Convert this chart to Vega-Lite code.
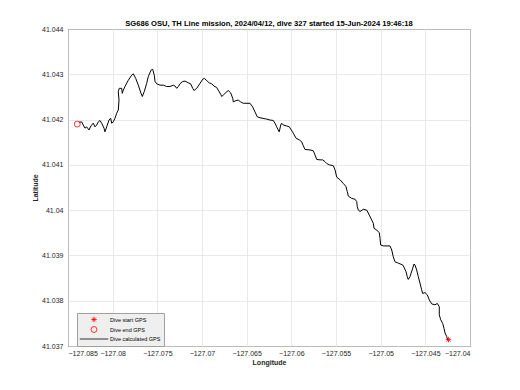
{
  "$schema": "https://vega.github.io/schema/vega-lite/v6.json",
  "autosize": {"type": "none"},
  "padding": {"left": 68, "top": 29, "right": 50, "bottom": 44},
  "width": 402,
  "height": 317,
  "background": "white",
  "title": {
    "text": "SG686 OSU, TH Line mission, 2024/04/12, dive 327 started 15-Jun-2024 19:46:18",
    "anchor": "middle",
    "font": "Liberation Sans",
    "fontSize": 7.6,
    "fontWeight": "bold",
    "color": "#000000",
    "offset": -3,
    "limit": 1000
  },
  "datasets": {
    "track": [
      {"i": 1, "lon": -127.08377, "lat": 41.04194},
      {"i": 2, "lon": -127.08347, "lat": 41.04195},
      {"i": 3, "lon": -127.08329, "lat": 41.04188},
      {"i": 4, "lon": -127.08310, "lat": 41.04181},
      {"i": 5, "lon": -127.08291, "lat": 41.04184},
      {"i": 6, "lon": -127.08265, "lat": 41.04177},
      {"i": 7, "lon": -127.08243, "lat": 41.04186},
      {"i": 8, "lon": -127.08217, "lat": 41.04192},
      {"i": 9, "lon": -127.08198, "lat": 41.04184},
      {"i": 10, "lon": -127.08179, "lat": 41.04188},
      {"i": 11, "lon": -127.08161, "lat": 41.04195},
      {"i": 12, "lon": -127.08142, "lat": 41.04198},
      {"i": 13, "lon": -127.08123, "lat": 41.04192},
      {"i": 14, "lon": -127.08097, "lat": 41.04181},
      {"i": 15, "lon": -127.08086, "lat": 41.04173},
      {"i": 16, "lon": -127.08067, "lat": 41.04184},
      {"i": 17, "lon": -127.08041, "lat": 41.04199},
      {"i": 18, "lon": -127.08022, "lat": 41.04203},
      {"i": 19, "lon": -127.08011, "lat": 41.04192},
      {"i": 20, "lon": -127.07993, "lat": 41.04195},
      {"i": 21, "lon": -127.07974, "lat": 41.04203},
      {"i": 22, "lon": -127.07955, "lat": 41.04214},
      {"i": 23, "lon": -127.07937, "lat": 41.04221},
      {"i": 24, "lon": -127.07929, "lat": 41.04243},
      {"i": 25, "lon": -127.07937, "lat": 41.04262},
      {"i": 26, "lon": -127.07926, "lat": 41.04269},
      {"i": 27, "lon": -127.07899, "lat": 41.04269},
      {"i": 28, "lon": -127.07892, "lat": 41.04258},
      {"i": 29, "lon": -127.07881, "lat": 41.04265},
      {"i": 30, "lon": -127.07862, "lat": 41.04273},
      {"i": 31, "lon": -127.07825, "lat": 41.04287},
      {"i": 32, "lon": -127.07787, "lat": 41.04298},
      {"i": 33, "lon": -127.07769, "lat": 41.04301},
      {"i": 34, "lon": -127.07742, "lat": 41.04291},
      {"i": 35, "lon": -127.07713, "lat": 41.04276},
      {"i": 36, "lon": -127.07683, "lat": 41.04258},
      {"i": 37, "lon": -127.07668, "lat": 41.04251},
      {"i": 38, "lon": -127.07646, "lat": 41.04262},
      {"i": 39, "lon": -127.07619, "lat": 41.04280},
      {"i": 40, "lon": -127.07601, "lat": 41.04295},
      {"i": 41, "lon": -127.07571, "lat": 41.04309},
      {"i": 42, "lon": -127.07552, "lat": 41.04311},
      {"i": 43, "lon": -127.07534, "lat": 41.04298},
      {"i": 44, "lon": -127.07526, "lat": 41.04284},
      {"i": 45, "lon": -127.07507, "lat": 41.04279},
      {"i": 46, "lon": -127.07470, "lat": 41.04276},
      {"i": 47, "lon": -127.07433, "lat": 41.04276},
      {"i": 48, "lon": -127.07395, "lat": 41.04273},
      {"i": 49, "lon": -127.07358, "lat": 41.04273},
      {"i": 50, "lon": -127.07321, "lat": 41.04276},
      {"i": 51, "lon": -127.07302, "lat": 41.04274},
      {"i": 52, "lon": -127.07283, "lat": 41.04269},
      {"i": 53, "lon": -127.07265, "lat": 41.04273},
      {"i": 54, "lon": -127.07246, "lat": 41.04279},
      {"i": 55, "lon": -127.07216, "lat": 41.04284},
      {"i": 56, "lon": -127.07190, "lat": 41.04285},
      {"i": 57, "lon": -127.07153, "lat": 41.04281},
      {"i": 58, "lon": -127.07127, "lat": 41.04279},
      {"i": 59, "lon": -127.07104, "lat": 41.04269},
      {"i": 60, "lon": -127.07090, "lat": 41.04264},
      {"i": 61, "lon": -127.07059, "lat": 41.04269},
      {"i": 62, "lon": -127.07022, "lat": 41.04280},
      {"i": 63, "lon": -127.06992, "lat": 41.04289},
      {"i": 64, "lon": -127.06974, "lat": 41.04291},
      {"i": 65, "lon": -127.06947, "lat": 41.04286},
      {"i": 66, "lon": -127.06918, "lat": 41.04281},
      {"i": 67, "lon": -127.06891, "lat": 41.04279},
      {"i": 68, "lon": -127.06866, "lat": 41.04274},
      {"i": 69, "lon": -127.06836, "lat": 41.04271},
      {"i": 70, "lon": -127.06818, "lat": 41.04265},
      {"i": 71, "lon": -127.06791, "lat": 41.04256},
      {"i": 72, "lon": -127.06780, "lat": 41.04251},
      {"i": 73, "lon": -127.06762, "lat": 41.04254},
      {"i": 74, "lon": -127.06731, "lat": 41.04260},
      {"i": 75, "lon": -127.06706, "lat": 41.04264},
      {"i": 76, "lon": -127.06679, "lat": 41.04259},
      {"i": 77, "lon": -127.06656, "lat": 41.04247},
      {"i": 78, "lon": -127.06650, "lat": 41.04239},
      {"i": 79, "lon": -127.06619, "lat": 41.04242},
      {"i": 80, "lon": -127.06594, "lat": 41.04243},
      {"i": 81, "lon": -127.06567, "lat": 41.04239},
      {"i": 82, "lon": -127.06538, "lat": 41.04236},
      {"i": 83, "lon": -127.06463, "lat": 41.04236},
      {"i": 84, "lon": -127.06433, "lat": 41.04228},
      {"i": 85, "lon": -127.06407, "lat": 41.04217},
      {"i": 86, "lon": -127.06381, "lat": 41.04206},
      {"i": 87, "lon": -127.06351, "lat": 41.04204},
      {"i": 88, "lon": -127.06276, "lat": 41.04201},
      {"i": 89, "lon": -127.06239, "lat": 41.04199},
      {"i": 90, "lon": -127.06202, "lat": 41.04198},
      {"i": 91, "lon": -127.06183, "lat": 41.04192},
      {"i": 92, "lon": -127.06164, "lat": 41.04184},
      {"i": 93, "lon": -127.06146, "lat": 41.04177},
      {"i": 94, "lon": -127.06135, "lat": 41.04173},
      {"i": 95, "lon": -127.06119, "lat": 41.04188},
      {"i": 96, "lon": -127.06108, "lat": 41.04192},
      {"i": 97, "lon": -127.06090, "lat": 41.04188},
      {"i": 98, "lon": -127.06052, "lat": 41.04186},
      {"i": 99, "lon": -127.06023, "lat": 41.04184},
      {"i": 100, "lon": -127.06007, "lat": 41.04179},
      {"i": 101, "lon": -127.05978, "lat": 41.04170},
      {"i": 102, "lon": -127.05948, "lat": 41.04159},
      {"i": 103, "lon": -127.05911, "lat": 41.04155},
      {"i": 104, "lon": -127.05884, "lat": 41.04151},
      {"i": 105, "lon": -127.05866, "lat": 41.04142},
      {"i": 106, "lon": -127.05847, "lat": 41.04134},
      {"i": 107, "lon": -127.05791, "lat": 41.04133},
      {"i": 108, "lon": -127.05754, "lat": 41.04131},
      {"i": 109, "lon": -127.05735, "lat": 41.04122},
      {"i": 110, "lon": -127.05716, "lat": 41.04112},
      {"i": 111, "lon": -127.05679, "lat": 41.04111},
      {"i": 112, "lon": -127.05649, "lat": 41.04111},
      {"i": 113, "lon": -127.05623, "lat": 41.04107},
      {"i": 114, "lon": -127.05604, "lat": 41.04103},
      {"i": 115, "lon": -127.05575, "lat": 41.04100},
      {"i": 116, "lon": -127.05530, "lat": 41.04098},
      {"i": 117, "lon": -127.05511, "lat": 41.04089},
      {"i": 118, "lon": -127.05492, "lat": 41.04073},
      {"i": 119, "lon": -127.05455, "lat": 41.04067},
      {"i": 120, "lon": -127.05418, "lat": 41.04059},
      {"i": 121, "lon": -127.05388, "lat": 41.04052},
      {"i": 122, "lon": -127.05374, "lat": 41.04041},
      {"i": 123, "lon": -127.05362, "lat": 41.04031},
      {"i": 124, "lon": -127.05324, "lat": 41.04026},
      {"i": 125, "lon": -127.05287, "lat": 41.04024},
      {"i": 126, "lon": -127.05268, "lat": 41.04019},
      {"i": 127, "lon": -127.05262, "lat": 41.04008},
      {"i": 128, "lon": -127.05250, "lat": 41.04000},
      {"i": 129, "lon": -127.05231, "lat": 41.03997},
      {"i": 130, "lon": -127.05194, "lat": 41.04002},
      {"i": 131, "lon": -127.05156, "lat": 41.04000},
      {"i": 132, "lon": -127.05127, "lat": 41.03989},
      {"i": 133, "lon": -127.05100, "lat": 41.03978},
      {"i": 134, "lon": -127.05082, "lat": 41.03971},
      {"i": 135, "lon": -127.05075, "lat": 41.03960},
      {"i": 136, "lon": -127.05044, "lat": 41.03956},
      {"i": 137, "lon": -127.05015, "lat": 41.03950},
      {"i": 138, "lon": -127.05007, "lat": 41.03938},
      {"i": 139, "lon": -127.05000, "lat": 41.03923},
      {"i": 140, "lon": -127.04970, "lat": 41.03921},
      {"i": 141, "lon": -127.04896, "lat": 41.03921},
      {"i": 142, "lon": -127.04876, "lat": 41.03912},
      {"i": 143, "lon": -127.04859, "lat": 41.03897},
      {"i": 144, "lon": -127.04840, "lat": 41.03886},
      {"i": 145, "lon": -127.04803, "lat": 41.03883},
      {"i": 146, "lon": -127.04753, "lat": 41.03879},
      {"i": 147, "lon": -127.04739, "lat": 41.03874},
      {"i": 148, "lon": -127.04716, "lat": 41.03864},
      {"i": 149, "lon": -127.04702, "lat": 41.03853},
      {"i": 150, "lon": -127.04691, "lat": 41.03847},
      {"i": 151, "lon": -127.04672, "lat": 41.03853},
      {"i": 152, "lon": -127.04641, "lat": 41.03872},
      {"i": 153, "lon": -127.04627, "lat": 41.03881},
      {"i": 154, "lon": -127.04616, "lat": 41.03879},
      {"i": 155, "lon": -127.04597, "lat": 41.03868},
      {"i": 156, "lon": -127.04579, "lat": 41.03853},
      {"i": 157, "lon": -127.04560, "lat": 41.03839},
      {"i": 158, "lon": -127.04541, "lat": 41.03824},
      {"i": 159, "lon": -127.04530, "lat": 41.03816},
      {"i": 160, "lon": -127.04504, "lat": 41.03818},
      {"i": 161, "lon": -127.04478, "lat": 41.03813},
      {"i": 162, "lon": -127.04456, "lat": 41.03802},
      {"i": 163, "lon": -127.04429, "lat": 41.03793},
      {"i": 164, "lon": -127.04392, "lat": 41.03791},
      {"i": 165, "lon": -127.04366, "lat": 41.03794},
      {"i": 166, "lon": -127.04344, "lat": 41.03787},
      {"i": 167, "lon": -127.04344, "lat": 41.03769},
      {"i": 168, "lon": -127.04328, "lat": 41.03758},
      {"i": 169, "lon": -127.04306, "lat": 41.03750},
      {"i": 170, "lon": -127.04291, "lat": 41.03739},
      {"i": 171, "lon": -127.04280, "lat": 41.03729},
      {"i": 172, "lon": -127.04261, "lat": 41.03721},
      {"i": 173, "lon": -127.04250, "lat": 41.03713}
    ],
    "gps": [
      {"lon": -127.04241, "lat": 41.03714, "series": "Dive start GPS"},
      {"lon": -127.08396, "lat": 41.04190, "series": "Dive end GPS"}
    ]
  },
  "config": {
    "view": {"stroke": "#262626", "strokeWidth": 1},
    "axis": {
      "labelFont": "Liberation Sans",
      "labelFontSize": 7,
      "labelColor": "#262626",
      "titleFont": "Liberation Sans",
      "titleFontSize": 7,
      "titleFontWeight": "bold",
      "titleColor": "#262626",
      "gridColor": "#e3e3e3",
      "gridWidth": 0.8,
      "domain": false,
      "ticks": false
    },
    "legend": {
      "labelFont": "Liberation Sans",
      "labelFontSize": 5.5,
      "labelColor": "#000000",
      "fillColor": "#efefef",
      "strokeColor": "#a0a0a0",
      "padding": 3,
      "rowPadding": 0,
      "symbolSize": 36,
      "symbolStrokeWidth": 0.8,
      "symbolOffset": 10,
      "labelOffset": 12
    }
  },
  "layer": [
    {
      "data": {"name": "track"},
      "mark": {"type": "line", "strokeWidth": 1, "color": "#000000", "interpolate": "linear"},
      "encoding": {
        "x": {
          "field": "lon", "type": "quantitative",
          "scale": {"domain": [-127.085, -127.04], "nice": false, "zero": false},
          "axis": {
            "title": "Longitude",
            "values": [-127.085, -127.08, -127.075, -127.07, -127.065, -127.06, -127.055, -127.05, -127.045, -127.04],
            "format": ".3~f",
            "labelPadding": 3,
            "titlePadding": 2
          }
        },
        "y": {
          "field": "lat", "type": "quantitative",
          "scale": {"domain": [41.037, 41.044], "nice": false, "zero": false},
          "axis": {
            "title": "Latitude",
            "values": [41.037, 41.038, 41.039, 41.04, 41.041, 41.042, 41.043, 41.044],
            "format": ".3~f",
            "labelPadding": 5,
            "titlePadding": 3
          }
        },
        "order": {"field": "i", "type": "quantitative"}
      }
    },
    {
      "data": {"name": "gps"},
      "mark": {"type": "point", "filled": false, "strokeWidth": 0.8, "opacity": 1},
      "encoding": {
        "x": {"field": "lon", "type": "quantitative"},
        "y": {"field": "lat", "type": "quantitative"},
        "color": {
          "field": "series", "type": "nominal",
          "scale": {
            "domain": ["Dive start GPS", "Dive end GPS", "Dive calculated GPS"],
            "range": ["#ff0000", "#ff0000", "#000000"]
          },
          "legend": {
            "title": null,
            "orient": "none",
            "legendX": 9,
            "legendY": 284
          }
        },
        "shape": {
          "field": "series", "type": "nominal",
          "scale": {
            "domain": ["Dive start GPS", "Dive end GPS", "Dive calculated GPS"],
            "range": ["M-1,0L1,0M0,-1L0,1M-0.7,-0.7L0.7,0.7M-0.7,0.7L0.7,-0.7", "circle", "M-4.5,0L4.5,0"]
          }
        },
        "size": {
          "field": "series", "type": "nominal",
          "scale": {
            "domain": ["Dive start GPS", "Dive end GPS", "Dive calculated GPS"],
            "range": [30, 40, 36]
          }
        }
      }
    }
  ]
}
